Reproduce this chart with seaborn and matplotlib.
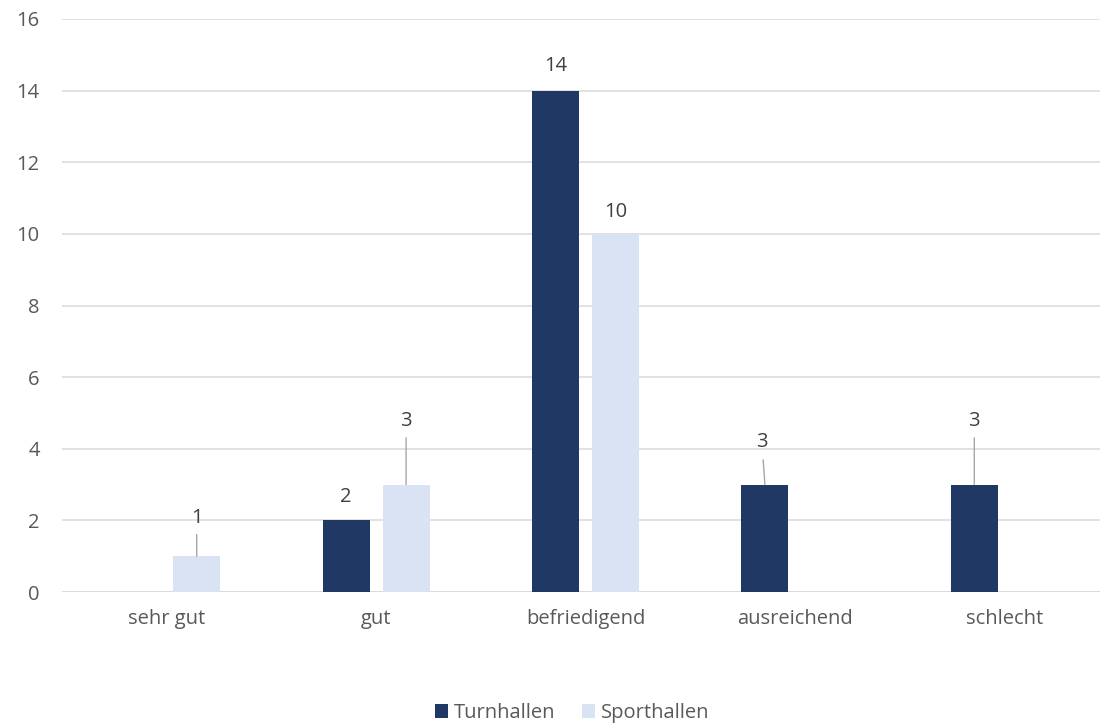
import pandas as pd
import matplotlib
matplotlib.use("Agg")
import matplotlib.pyplot as plt
from matplotlib.patches import Patch
import seaborn as sns

# chart data
categories = ["sehr gut", "gut", "befriedigend", "ausreichend", "schlecht"]
turnhallen = [0, 2, 14, 3, 3]
sporthallen = [1, 3, 10, 0, 0]
series_names = ["Turnhallen", "Sporthallen"]
y_ticks = [0, 2, 4, 6, 8, 10, 12, 14, 16]

df = pd.DataFrame({
    "Bewertung": categories * 2,
    "Anzahl": turnhallen + sporthallen,
    "Halle": [series_names[0]] * len(categories) + [series_names[1]] * len(categories),
})

colors = {"Turnhallen": "#203864", "Sporthallen": "#DAE3F3"}

# label placement (pixels above the bar top, x shift, leader line length)
label_style = {
    "Turnhallen": [None, (23, 0, 0), (25, 0, 0), (43, -3, 25), (64, 0, 47)],
    "Sporthallen": [(38, 0, 22), (64, 0, 47), (22, 0, 0), None, None],
}

sns.set_style("white")
plt.rcParams["font.family"] = ["Open Sans", "DejaVu Sans"]
fs = 14.5

fig = plt.figure(figsize=(11, 7.25), dpi=100)
ax = fig.add_axes([62 / 1100, 133 / 725, 1047 / 1100, 573 / 725])

sns.barplot(data=df, x="Bewertung", y="Anzahl", hue="Halle", order=categories,
            hue_order=series_names, palette=colors, width=0.573, gap=0.217,
            saturation=1, linewidth=0, legend=False, ax=ax)

ax.set_xlim(-0.5, 4.5)
ax.set_ylim(0, 16)
ax.set_yticks(y_ticks)
ax.yaxis.grid(True, color="#D9D9D9", linewidth=1.1)
ax.set_axisbelow(True)
for s in ["top", "right", "left", "bottom"]:
    ax.spines[s].set_visible(False)
ax.axhline(0, color="#D9D9D9", linewidth=1.1, zorder=0.5)
ax.set_xlabel("")
ax.set_ylabel("")
ax.tick_params(axis="both", length=0, labelsize=fs, colors="#595959")
ax.tick_params(axis="x", pad=12)
ax.tick_params(axis="y", pad=16)

px = 0.72  # pixels -> points at 100 dpi
for cont, name in zip(ax.containers, series_names):
    for bar, style in zip(cont.patches, label_style[name]):
        if style is None:
            continue
        lift, dx, line = style
        h = bar.get_height()
        x = bar.get_x() + bar.get_width() / 2
        props = None
        if line:
            props = dict(arrowstyle="-", color="#A6A6A6", lw=1.0,
                         shrinkA=(lift - line - 13) * px, shrinkB=0)
        ax.annotate(f"{h:g}", xy=(x, h), xytext=(dx * px, lift * px),
                    textcoords="offset points", ha="center", va="center",
                    fontsize=fs, color="#404040", arrowprops=props)

handles = [Patch(facecolor=colors[n], edgecolor="none") for n in series_names]
fig.legend(handles, series_names, loc="center", bbox_to_anchor=(572 / 1100, 1 - 713 / 725),
           ncol=2, frameon=False, fontsize=fs, handlelength=0.65, handleheight=0.65,
           handletextpad=0.3, columnspacing=1.3, labelcolor="#595959")

fig.savefig("out.png", dpi=100)
